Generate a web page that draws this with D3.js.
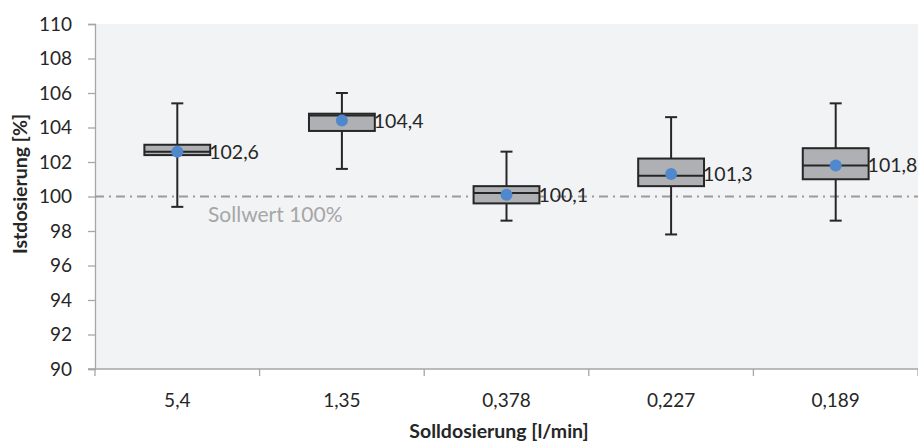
<!DOCTYPE html>
<html>
<head>
<meta charset="utf-8">
<script src="https://cdn.jsdelivr.net/npm/d3@7"></script>
<style>
  body { margin: 0; background: #fff; }
  text { font-family: Lato, "Liberation Sans", sans-serif; fill: #262626; }
  .axis-label { font-weight: bold; font-size: 19.5px; }
</style>
</head>
<body>
<div id="chart"></div>
<script>
const categories = ["5,4", "1,35", "0,378", "0,227", "0,189"];
const whiskerLow = [99.4, 101.6, 98.6, 97.8, 98.6];
const q1 = [102.4, 103.8, 99.6, 100.6, 101.0];
const median = [102.6, 104.7, 100.2, 101.2, 101.8];
const q3 = [103.0, 104.8, 100.6, 102.2, 102.8];
const whiskerHigh = [105.4, 106.0, 102.6, 104.6, 105.4];
const means = [102.6, 104.4, 100.1, 101.3, 101.8];
const yTicks = [90, 92, 94, 96, 98, 100, 102, 104, 106, 108, 110];
const sollwert = 100;

const width = 918, height = 443;
const margin = {top: 24, right: 0, bottom: 74, left: 95};
const innerwidth = width - margin.left - margin.right;
const innerheight = height - margin.top - margin.bottom;

const data = categories.map((c, i) => ({
  cat: c, lo: whiskerLow[i], q1: q1[i], med: median[i], q3: q3[i], hi: whiskerHigh[i], mean: means[i]
}));

const svg = d3.select("#chart")
  .append("svg")
  .attr("width", width)
  .attr("height", height);

const inner = svg.append("g")
  .attr("transform", `translate(${margin.left},${margin.top})`);

const xScale = d3.scaleBand()
  .domain(categories)
  .range([0, innerwidth]);

const yScale = d3.scaleLinear()
  .domain([90, 110])
  .range([innerheight, 0]);

// plot background
inner.append("rect")
  .attr("x", 0)
  .attr("y", 0)
  .attr("width", innerwidth)
  .attr("height", innerheight)
  .attr("fill", "#f2f3f5");

// axes
const leftAxis = d3.axisLeft(yScale)
  .tickValues(yTicks)
  .tickSize(7)
  .tickPadding(16);
const gy = inner.append("g").call(leftAxis);
gy.select(".domain").attr("stroke", "#a6a6a6").attr("stroke-width", 1.3);
gy.selectAll(".tick line").attr("stroke", "#a6a6a6").attr("stroke-width", 1.3);
gy.selectAll(".tick text")
  .attr("font-size", 19)
  .style("font-family", "Lato, sans-serif")
  .attr("fill", "#262626");

const gx = inner.append("g")
  .attr("transform", `translate(0,${innerheight})`);
gx.append("line")
  .attr("x1", -7).attr("x2", innerwidth)
  .attr("stroke", "#a6a6a6").attr("stroke-width", 1.3);
const boundaries = d3.range(categories.length + 1).map(i => i * xScale.bandwidth());
gx.selectAll(".xtick")
  .data(boundaries)
  .join("line")
  .attr("x1", d => d).attr("x2", d => d)
  .attr("y1", 0).attr("y2", 7)
  .attr("stroke", "#a6a6a6").attr("stroke-width", 1.3);
gx.selectAll(".xlabel")
  .data(categories)
  .join("text")
  .attr("x", d => xScale(d) + xScale.bandwidth() / 2)
  .attr("y", 38)
  .attr("text-anchor", "middle")
  .attr("font-size", 19)
  .text(d => d);

// reference line
inner.append("line")
  .attr("x1", 0).attr("x2", innerwidth)
  .attr("y1", yScale(sollwert)).attr("y2", yScale(sollwert))
  .attr("stroke", "#9b9b9b")
  .attr("stroke-width", 2)
  .attr("stroke-dasharray", "9,5,2,5");

inner.append("text")
  .attr("x", 113)
  .attr("y", yScale(sollwert) + 25)
  .attr("font-size", 21)
  .style("fill", "#a6a6a6")
  .text("Sollwert 100%");

// boxes
const boxW = xScale.bandwidth() * 0.4;
const capW = 12;
const boxes = inner.selectAll(".box")
  .data(data)
  .join("g")
  .attr("class", "box")
  .attr("transform", d => `translate(${xScale(d.cat) + xScale.bandwidth() / 2},0)`);

boxes.append("line")
  .attr("x1", 0).attr("x2", 0)
  .attr("y1", d => yScale(d.lo)).attr("y2", d => yScale(d.hi))
  .attr("stroke", "#262626").attr("stroke-width", 2);
boxes.append("line")
  .attr("x1", -capW / 2).attr("x2", capW / 2)
  .attr("y1", d => yScale(d.hi)).attr("y2", d => yScale(d.hi))
  .attr("stroke", "#262626").attr("stroke-width", 2);
boxes.append("line")
  .attr("x1", -capW / 2).attr("x2", capW / 2)
  .attr("y1", d => yScale(d.lo)).attr("y2", d => yScale(d.lo))
  .attr("stroke", "#262626").attr("stroke-width", 2);
boxes.append("rect")
  .attr("x", -boxW / 2)
  .attr("width", boxW)
  .attr("y", d => yScale(d.q3))
  .attr("height", d => yScale(d.q1) - yScale(d.q3))
  .attr("fill", "#afb0b3")
  .attr("stroke", "#262626").attr("stroke-width", 2);
boxes.append("line")
  .attr("x1", -boxW / 2).attr("x2", boxW / 2)
  .attr("y1", d => yScale(d.med)).attr("y2", d => yScale(d.med))
  .attr("stroke", "#262626").attr("stroke-width", 2);
boxes.append("circle")
  .attr("cy", d => yScale(d.mean))
  .attr("r", 6)
  .attr("fill", "#4f88cc");
boxes.append("text")
  .attr("x", boxW / 2 - 1)
  .attr("y", d => yScale(d.mean) + 7)
  .attr("font-size", 19.5)
  .text(d => d3.format(".1f")(d.mean).replace(".", ","));

// axis titles
svg.append("text")
  .attr("class", "axis-label")
  .attr("text-anchor", "middle")
  .attr("x", 499)
  .attr("y", height - 5)
  .text("Solldosierung [l/min]");

svg.append("text")
  .attr("class", "axis-label")
  .attr("text-anchor", "middle")
  .attr("transform", "translate(27,184) rotate(-90)")
  .text("Istdosierung [%]");
</script>
</body>
</html>
